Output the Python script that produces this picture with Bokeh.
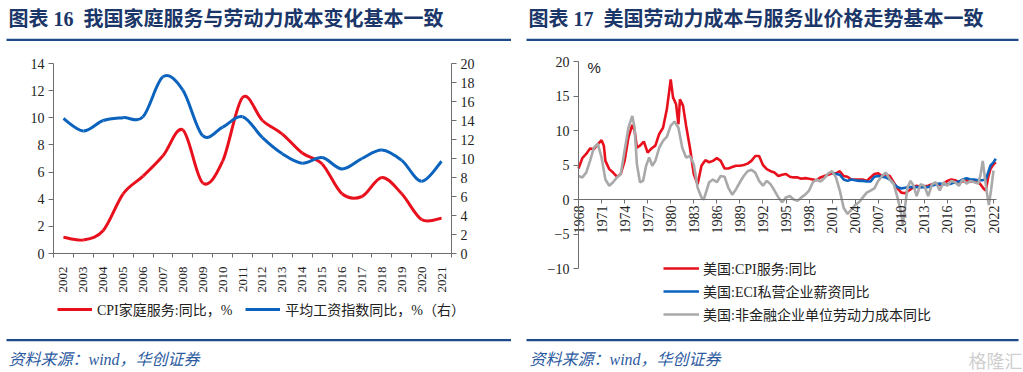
import numpy as np
from math import pi
from bokeh.plotting import figure
from bokeh.models import Range1d, LinearAxis, FixedTicker, Label, BoxAnnotation, Legend, LegendItem
from bokeh.layouts import row
from bokeh.embed import file_html
from bokeh.resources import INLINE

# ---------------- data: left panel ----------------
years = ["2002", "2003", "2004", "2005", "2006", "2007", "2008", "2009", "2010", "2011",
         "2012", "2013", "2014", "2015", "2016", "2017", "2018", "2019", "2020", "2021"]
cpi_home = [1.2, 1.0, 1.7, 4.4, 5.7, 7.2, 9.1, 5.2, 6.8, 11.5,
            9.8, 8.8, 7.4, 6.6, 4.4, 4.2, 5.6, 4.4, 2.5, 2.6]
wage_idx = [14.2, 12.9, 14.0, 14.3, 14.4, 18.6, 17.2, 12.4, 13.3, 14.4,
            12.2, 10.5, 9.5, 10.1, 8.9, 10.0, 10.9, 9.8, 7.6, 9.7]
left_ticks = [0, 2, 4, 6, 8, 10, 12, 14]
right_ticks = [0, 2, 4, 6, 8, 10, 12, 14, 16, 18, 20]

# ---------------- data: right panel ----------------
us_cpi_t = [1968.0, 1968.5, 1969.0, 1969.5, 1970.0, 1970.5, 1971.0, 1971.3, 1971.5, 1972.0,
            1972.5, 1973.0, 1973.5, 1974.0, 1974.5, 1975.0, 1975.3, 1975.6, 1976.0, 1976.5,
            1977.0, 1977.5, 1978.0, 1978.5, 1979.0, 1979.5, 1980.0, 1980.3, 1980.7, 1981.0,
            1981.2, 1981.6, 1982.0, 1982.5, 1983.0, 1983.5, 1984.0, 1984.5, 1985.0, 1985.5,
            1986.0, 1986.5, 1987.0, 1987.5, 1988.0, 1988.5, 1989.0, 1989.5, 1990.0, 1990.5,
            1991.0, 1991.5, 1992.0, 1992.5, 1993.0, 1993.5, 1994.0, 1994.5, 1995.0, 1995.5,
            1996.0, 1996.5, 1997.0, 1997.5, 1998.0, 1998.5, 1999.0, 1999.5, 2000.0, 2000.5,
            2001.0, 2001.5, 2002.0, 2002.5, 2003.0, 2003.5, 2004.0, 2004.5, 2005.0, 2005.5,
            2006.0, 2006.5, 2007.0, 2007.5, 2008.0, 2008.5, 2009.0, 2009.5, 2010.0, 2010.5,
            2011.0, 2011.5, 2012.0, 2012.5, 2013.0, 2013.5, 2014.0, 2014.5, 2015.0, 2015.5,
            2016.0, 2016.5, 2017.0, 2017.5, 2018.0, 2018.5, 2019.0, 2019.5, 2020.0, 2020.3,
            2020.7, 2021.0, 2021.3, 2021.6, 2022.0, 2022.3]
us_cpi_v = [4.5, 6.0, 6.6, 7.4, 7.3, 8.0, 8.6, 7.8, 5.6, 4.4,
            3.9, 3.3, 3.7, 5.6, 9.0, 10.8, 10.0, 7.5, 7.8, 8.4,
            6.8, 7.4, 7.8, 9.5, 10.4, 13.1, 17.4, 14.8, 13.8, 10.9,
            14.5, 13.6, 10.7, 7.5, 3.7, 2.2, 4.9, 5.7, 5.4, 5.6,
            6.0, 5.6, 4.5, 4.5, 4.7, 4.9, 4.9, 5.0, 5.2, 5.6,
            6.3, 6.3, 5.0, 4.4, 4.1, 3.9, 3.4, 3.6, 3.7, 3.3,
            3.2, 3.2, 3.0, 3.1, 3.0, 2.9, 2.8, 3.2, 3.4, 3.6,
            3.8, 3.8, 4.1, 3.4, 3.3, 2.9, 2.9, 2.9, 2.9, 2.7,
            3.2, 3.7, 3.8, 3.4, 3.6, 3.4, 2.5, 1.6, 1.0, 0.9,
            1.3, 1.7, 2.0, 1.8, 1.9, 2.0, 2.2, 2.3, 2.1, 2.3,
            2.7, 2.9, 2.8, 2.5, 2.6, 2.8, 2.6, 2.7, 2.6, 2.2,
            1.6, 1.3, 3.2, 4.4, 5.1, 5.4]

us_eci_t = [2001.0, 2001.5, 2002.0, 2002.5, 2003.0, 2003.5, 2004.0, 2004.5, 2005.0, 2005.5,
            2006.0, 2006.5, 2007.0, 2007.5, 2008.0, 2008.5, 2009.0, 2009.5, 2010.0, 2010.5,
            2011.0, 2011.5, 2012.0, 2012.5, 2013.0, 2013.5, 2014.0, 2014.5, 2015.0, 2015.5,
            2016.0, 2016.5, 2017.0, 2017.5, 2018.0, 2018.5, 2019.0, 2019.5, 2020.0, 2020.5,
            2021.0, 2021.3, 2021.6, 2022.0, 2022.3]
us_eci_v = [3.8, 3.7, 3.6, 2.9, 2.7, 2.9, 2.8, 2.7, 2.7, 2.6,
            2.6, 3.3, 3.4, 3.3, 3.2, 2.9, 2.3, 1.8, 1.6, 1.7,
            1.8, 1.8, 1.8, 1.8, 1.8, 1.8, 2.0, 2.2, 2.3, 2.2,
            2.2, 2.3, 2.5, 2.6, 2.9, 3.1, 2.9, 2.9, 2.8, 2.8,
            2.9, 3.9, 4.9, 5.4, 5.9]

us_ulc_t = [1968.0, 1968.5, 1969.0, 1969.5, 1970.0, 1970.5, 1971.0, 1971.5, 1972.0, 1972.5,
            1973.0, 1973.5, 1974.0, 1974.5, 1975.0, 1975.3, 1975.6, 1976.0, 1976.4, 1976.8,
            1977.2, 1977.6, 1978.0, 1978.5, 1979.0, 1979.5, 1980.0, 1980.5, 1981.0, 1981.5,
            1982.0, 1982.5, 1983.0, 1983.5, 1984.0, 1984.3, 1985.0, 1985.5, 1986.0, 1986.5,
            1987.0, 1987.5, 1988.0, 1988.5, 1989.0, 1989.5, 1990.0, 1990.5, 1991.0, 1991.5,
            1992.0, 1992.5, 1993.0, 1993.5, 1994.0, 1994.5, 1995.0, 1995.5, 1996.0, 1996.5,
            1997.0, 1997.5, 1998.0, 1998.5, 1999.0, 1999.5, 2000.0, 2000.5, 2001.0, 2001.5,
            2002.0, 2002.5, 2003.0, 2003.5, 2004.0, 2004.5, 2005.0, 2005.5, 2006.0, 2006.5,
            2007.0, 2007.5, 2008.0, 2008.5, 2009.0, 2009.5, 2009.9, 2010.2, 2010.5, 2010.8,
            2011.2, 2011.6, 2012.0, 2012.5, 2013.0, 2013.5, 2014.0, 2014.5, 2015.0, 2015.5,
            2016.0, 2016.5, 2017.0, 2017.5, 2018.0, 2018.5, 2019.0, 2019.5, 2020.0, 2020.3,
            2020.6, 2020.9, 2021.2, 2021.4, 2021.7, 2022.0]
us_ulc_v = [3.4, 3.2, 3.9, 5.6, 7.5, 8.1, 6.1, 2.9, 2.0, 2.5,
            3.2, 3.7, 7.1, 10.4, 12.1, 10.4, 5.1, 2.5, 2.7, 4.9,
            6.1, 4.9, 5.6, 7.5, 8.5, 9.1, 10.7, 11.3, 10.4, 7.5,
            6.1, 6.3, 5.1, 1.7, 0.3, 0.0, 2.5, 2.9, 2.5, 3.4,
            3.3, 1.7, 0.7, 1.5, 2.5, 3.4, 4.1, 4.3, 3.9, 2.7,
            2.0, 2.7, 2.2, 1.3, 0.3, -0.4, 0.3, 0.5, 0.0, -0.2,
            0.3, 0.7, 1.3, 2.5, 2.9, 2.6, 3.1, 3.8, 4.1, 3.2,
            1.3, -1.2, -2.1, -1.5, -0.8, -0.4, 0.3, 1.0, 1.3, 1.6,
            2.7, 3.4, 3.9, 2.9, 2.3, 0.3, -1.5, -3.6, -1.0, 1.7,
            2.7, 2.0, 0.5, 2.2, 2.0, 0.5, 2.2, 2.5, 1.3, 2.5,
            2.0, 2.7, 2.5, 2.0, 2.9, 2.3, 2.7, 2.5, 2.3, 3.5,
            5.6, 3.0, 0.5, -0.8, 1.5, 4.2]

us_tick_years = [1968, 1971, 1974, 1977, 1980, 1983, 1986, 1989, 1992, 1995,
                 1998, 2001, 2004, 2007, 2010, 2013, 2016, 2019, 2022]
us_y_ticks = [-10, -5, 0, 5, 10, 15, 20]

# ---------------- styles ----------------
SERIF = "Liberation Serif, Noto Sans CJK SC"
TITLE_COLOR = "#1B3668"
RULE_COLOR = "#1F4A8A"
SRC_COLOR = "#2C5AA0"
AXIS_COLOR = "#6E6E6E"
TEXT_COLOR = "#222222"
RED = "#E8101C"
BLUE = "#0B63BE"
GRAY = "#A9A9A9"
NBSP2 = "\u00a0\u00a0"

W1, W2, H = 511, 512, 372


def px_range(v_a, px_a, v_b, px_b, px_lo, px_hi):
    """Range whose ends sit at pixels px_lo / px_hi, given two value->pixel anchors."""
    k = (v_b - v_a) / (px_b - px_a)
    return Range1d(v_a + (px_lo - px_a) * k, v_a + (px_hi - px_a) * k)


def base_fig(width, xr, yr):
    p = figure(width=width, height=H, x_range=xr, y_range=yr,
               output_backend="svg", toolbar_location=None, min_border=0,
               outline_line_color=None, background_fill_color="white",
               border_fill_color="white")
    p.grid.visible = False
    return p


def style_axis(ax, size="14px"):
    ax.axis_line_color = AXIS_COLOR
    ax.axis_line_width = 1
    ax.major_tick_line_color = AXIS_COLOR
    ax.major_tick_out = 5
    ax.major_tick_in = 0
    ax.minor_tick_line_color = None
    ax.major_label_text_font = SERIF
    ax.major_label_text_font_size = size
    ax.major_label_text_color = TEXT_COLOR
    ax.major_label_standoff = 4


def smooth(xs, ys):
    xs = np.asarray(xs, float)
    ys = np.asarray(ys, float)
    xp = np.concatenate([[xs[0]], xs, [xs[-1]]])
    yp = np.concatenate([[ys[0]], ys, [ys[-1]]])
    i = np.arange(len(xs) - 1)
    return dict(x0=xp[i + 1], y0=yp[i + 1], x1=xp[i + 2], y1=yp[i + 2],
                cx0=xp[i + 1] + (xp[i + 2] - xp[i]) / 6, cy0=yp[i + 1] + (yp[i + 2] - yp[i]) / 6,
                cx1=xp[i + 2] - (xp[i + 3] - xp[i + 1]) / 6, cy1=yp[i + 2] - (yp[i + 3] - yp[i + 1]) / 6)


def box(p, l, r, t, b):
    p.add_layout(BoxAnnotation(left=l, right=r, top=H - t, bottom=H - b,
                               left_units="screen", right_units="screen",
                               top_units="screen", bottom_units="screen",
                               fill_color=RULE_COLOR, fill_alpha=1, line_color=None))


def text(p, x, y, s, size, color, style="normal", font=SERIF):
    p.add_layout(Label(x=x, y=H - y, x_units="screen", y_units="screen", text=s,
                       text_font=font, text_font_size=size, text_font_style=style,
                       text_color=color, text_baseline="middle", text_align="left"))


# ================= left panel =================
p1 = base_fig(W1, px_range(-0.5, 53, 19.5, 451, 0, W1), px_range(0, 253, 14, 63, H, 0))
p1.extra_y_ranges = {"wage": px_range(0, 253, 20, 63, H, 0)}
n = len(years)
# category labels at centres (no tick marks)
p1.xaxis.fixed_location = 0
p1.xaxis.bounds = (-0.5, n - 0.5)
p1.xaxis.ticker = FixedTicker(ticks=list(range(n)))
p1.xaxis.major_label_overrides = {i: y for i, y in enumerate(years)}
p1.xaxis.major_label_orientation = pi / 2
# category boundary tick marks (no labels)
ax_b = LinearAxis(fixed_location=0, bounds=(-0.5, n - 0.5),
                  ticker=FixedTicker(ticks=[i - 0.5 for i in range(n + 1)]))
p1.add_layout(ax_b, "below")
p1.yaxis.fixed_location = -0.5
p1.yaxis.bounds = (0, 14)
p1.yaxis.ticker = FixedTicker(ticks=left_ticks)
ax_r = LinearAxis(y_range_name="wage", ticker=FixedTicker(ticks=right_ticks),
                  fixed_location=n - 0.5, bounds=(0, 20))
p1.add_layout(ax_r, "right")
for ax in [p1.xaxis[0], ax_b, p1.yaxis[0], ax_r]:
    style_axis(ax)
p1.xaxis[0].major_label_text_font_size = "13px"
p1.xaxis[0].major_label_standoff = 8
p1.xaxis[0].major_tick_line_color = None
ax_b.major_label_text_color = None
ax_b.major_tick_out = 4

xi = list(range(n))
r_red = p1.bezier(**smooth(xi, cpi_home), line_color=RED, line_width=3)
r_blue = p1.bezier(**smooth(xi, wage_idx), line_color=BLUE, line_width=3, y_range_name="wage")

leg1 = Legend(items=[LegendItem(label="CPI家庭服务:同比，%", renderers=[r_red]),
                     LegendItem(label="平均工资指数同比，%（右）", renderers=[r_blue])],
              orientation="horizontal", location=(57, H - 319), padding=0, margin=0,
              spacing=13, glyph_width=35, glyph_height=14, label_height=14,
              label_standoff=5, label_text_font=SERIF, label_text_font_size="14px",
              label_text_color=TEXT_COLOR, border_line_color=None,
              background_fill_alpha=0)
p1.add_layout(leg1, "center")

text(p1, 8, 18, "图表 16" + NBSP2 + "我国家庭服务与劳动力成本变化基本一致", "20px", TITLE_COLOR, "bold")
box(p1, 6, W1, 38.3, 40.6)
box(p1, 6, W1, 338.6, 340.8)
text(p1, 8, 359, "资料来源：wind，华创证券", "16px", SRC_COLOR, "italic")

# ================= right panel =================
p2 = base_fig(W2, px_range(1968, 67, 2022, 482, 0, W2), px_range(-10, 268, 20, 61, H, 0))
p2.xaxis.fixed_location = 0
p2.xaxis.bounds = (1968, 2022.4)
p2.xaxis.ticker = FixedTicker(ticks=us_tick_years)
p2.xaxis.major_label_orientation = pi / 2
p2.yaxis.fixed_location = 1968
p2.yaxis.bounds = (-10, 20)
p2.yaxis.ticker = FixedTicker(ticks=us_y_ticks)
style_axis(p2.xaxis[0])
style_axis(p2.yaxis[0])
p2.xaxis.major_tick_out = 4
p2.xaxis.major_label_standoff = 2

r_r = p2.line(us_cpi_t, us_cpi_v, line_color=RED, line_width=2.6)
r_b = p2.line(us_eci_t, us_eci_v, line_color=BLUE, line_width=2.6)
r_g = p2.line(us_ulc_t, us_ulc_v, line_color=GRAY, line_width=2.6)

text(p2, 76, 67, "%", "15px", TEXT_COLOR, font="Liberation Sans")

leg2 = Legend(items=[LegendItem(label="美国:CPI服务:同比", renderers=[r_r]),
                     LegendItem(label="美国:ECI私营企业薪资同比", renderers=[r_b]),
                     LegendItem(label="美国:非金融企业单位劳动力成本同比", renderers=[r_g])],
              orientation="vertical", location=(152, H - 324), padding=0, margin=0,
              spacing=3, glyph_width=36, glyph_height=14, label_height=14,
              label_standoff=4, label_text_font=SERIF, label_text_font_size="14px",
              label_text_color=TEXT_COLOR, border_line_color=None,
              background_fill_alpha=0)
p2.add_layout(leg2, "center")

text(p2, 17, 18, "图表 17" + NBSP2 + "美国劳动力成本与服务业价格走势基本一致", "20px", TITLE_COLOR, "bold")
box(p2, 15, 507, 38.3, 40.6)
box(p2, 15, 507, 338.6, 340.8)
text(p2, 18, 359, "资料来源：wind，华创证券", "16px", SRC_COLOR, "italic")
text(p2, 457, 359, "格隆汇", "18px", "#CFCFCF", font="Noto Sans CJK SC")

layout = row(p1, p2, spacing=0)
open("out.html", "w").write(file_html(layout, INLINE))
